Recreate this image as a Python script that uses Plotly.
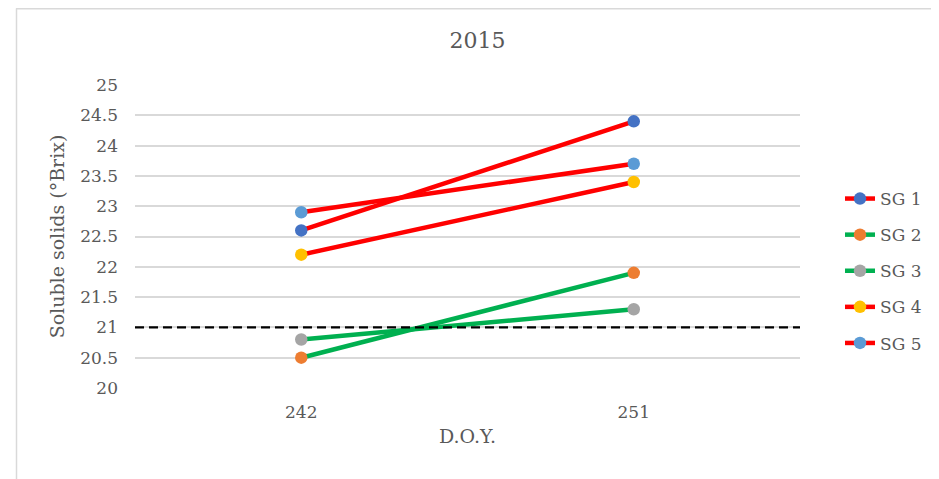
import plotly.graph_objects as go

# ---- data ----
doy = ["242", "251"]
series_names = ["SG 1", "SG 2", "SG 3", "SG 4", "SG 5"]
sg1 = [22.6, 24.4]
sg2 = [20.5, 21.9]
sg3 = [20.8, 21.3]
sg4 = [22.2, 23.4]
sg5 = [22.9, 23.7]
threshold = 21
y_ticks = [20, 20.5, 21, 21.5, 22, 22.5, 23, 23.5, 24, 24.5, 25]

series_values = [sg1, sg2, sg3, sg4, sg5]
line_colors = ["#FF0000", "#00B050", "#00B050", "#FF0000", "#FF0000"]
marker_colors = ["#4472C4", "#ED7D31", "#A5A5A5", "#FFC000", "#5B9BD5"]

FONT = "DejaVu Serif"
TXT = "#595959"

fig = go.Figure()
for name, vals, lc, mc in zip(series_names, series_values, line_colors, marker_colors):
    fig.add_trace(go.Scatter(
        x=doy, y=vals, name=name, mode="lines+markers",
        legendgroup=name,
        line=dict(color=lc, width=4.5),
        marker=dict(color=mc, size=12.5),
    ))

# page offset of the plot div (default body margin)
OFF = 8
W, H = 939, 479
# desired plot area in page pixels: x 135..800, y 85..388
L = 135 - OFF
T = 85 - OFF
R = (W + OFF) - 800
B = (H + OFF) - 388
pw, ph = W - L - R, H - T - B

def px_x(px):  # page px -> paper
    return (px - OFF - L) / pw

def px_y(py):
    return (H - B - (py - OFF)) / ph

shapes = [
    dict(type="line", xref="paper", yref="y", x0=0, x1=1, y0=threshold, y1=threshold,
         line=dict(color="black", width=2.2, dash="9px,5px"), layer="above"),
    dict(type="line", xref="paper", yref="paper", x0=px_x(16.5), x1=px_x(16.5), y0=px_y(8.5), y1=px_y(490),
         line=dict(color="#D9D9D9", width=1.5)),
    dict(type="line", xref="paper", yref="paper", x0=px_x(16), x1=px_x(950), y0=px_y(8.8), y1=px_y(8.8),
         line=dict(color="#D9D9D9", width=1.5)),
]

fig.update_layout(
    width=W, height=H,
    margin=dict(l=L, r=R, t=T, b=B),
    paper_bgcolor="white", plot_bgcolor="white",
    font=dict(family=FONT, color=TXT, size=16),
    title=dict(text="2015", x=0.5, xanchor="center", y=1 - (40 - OFF) / H, yanchor="middle",
               font=dict(family=FONT, size=22, color=TXT)),
    xaxis=dict(type="category", range=[-0.5, 1.5], showgrid=False, zeroline=False,
               showline=False, ticks="", tickfont=dict(size=17, color=TXT),
               ticklabelstandoff=12,
               title=dict(text="D.O.Y.", font=dict(size=19, color=TXT), standoff=8)),
    yaxis=dict(range=[20, 25], tickvals=y_ticks, ticktext=[f"{v:g}" for v in y_ticks],
               showgrid=True, gridcolor="#D9D9D9", gridwidth=1.5, zeroline=False,
               showline=False, ticks="", tickfont=dict(size=17, color=TXT),
               ticklabelstandoff=16,
               title=dict(text="Soluble solids (°Brix)", font=dict(size=19, color=TXT), standoff=10)),
    legend=dict(x=px_x(840), xanchor="left", y=px_y(271), yanchor="middle",
                font=dict(size=17, color=TXT), tracegroupgap=11, bgcolor="rgba(0,0,0,0)"),
    shapes=shapes,
    showlegend=True,
)

fig.write_html("out.html")
